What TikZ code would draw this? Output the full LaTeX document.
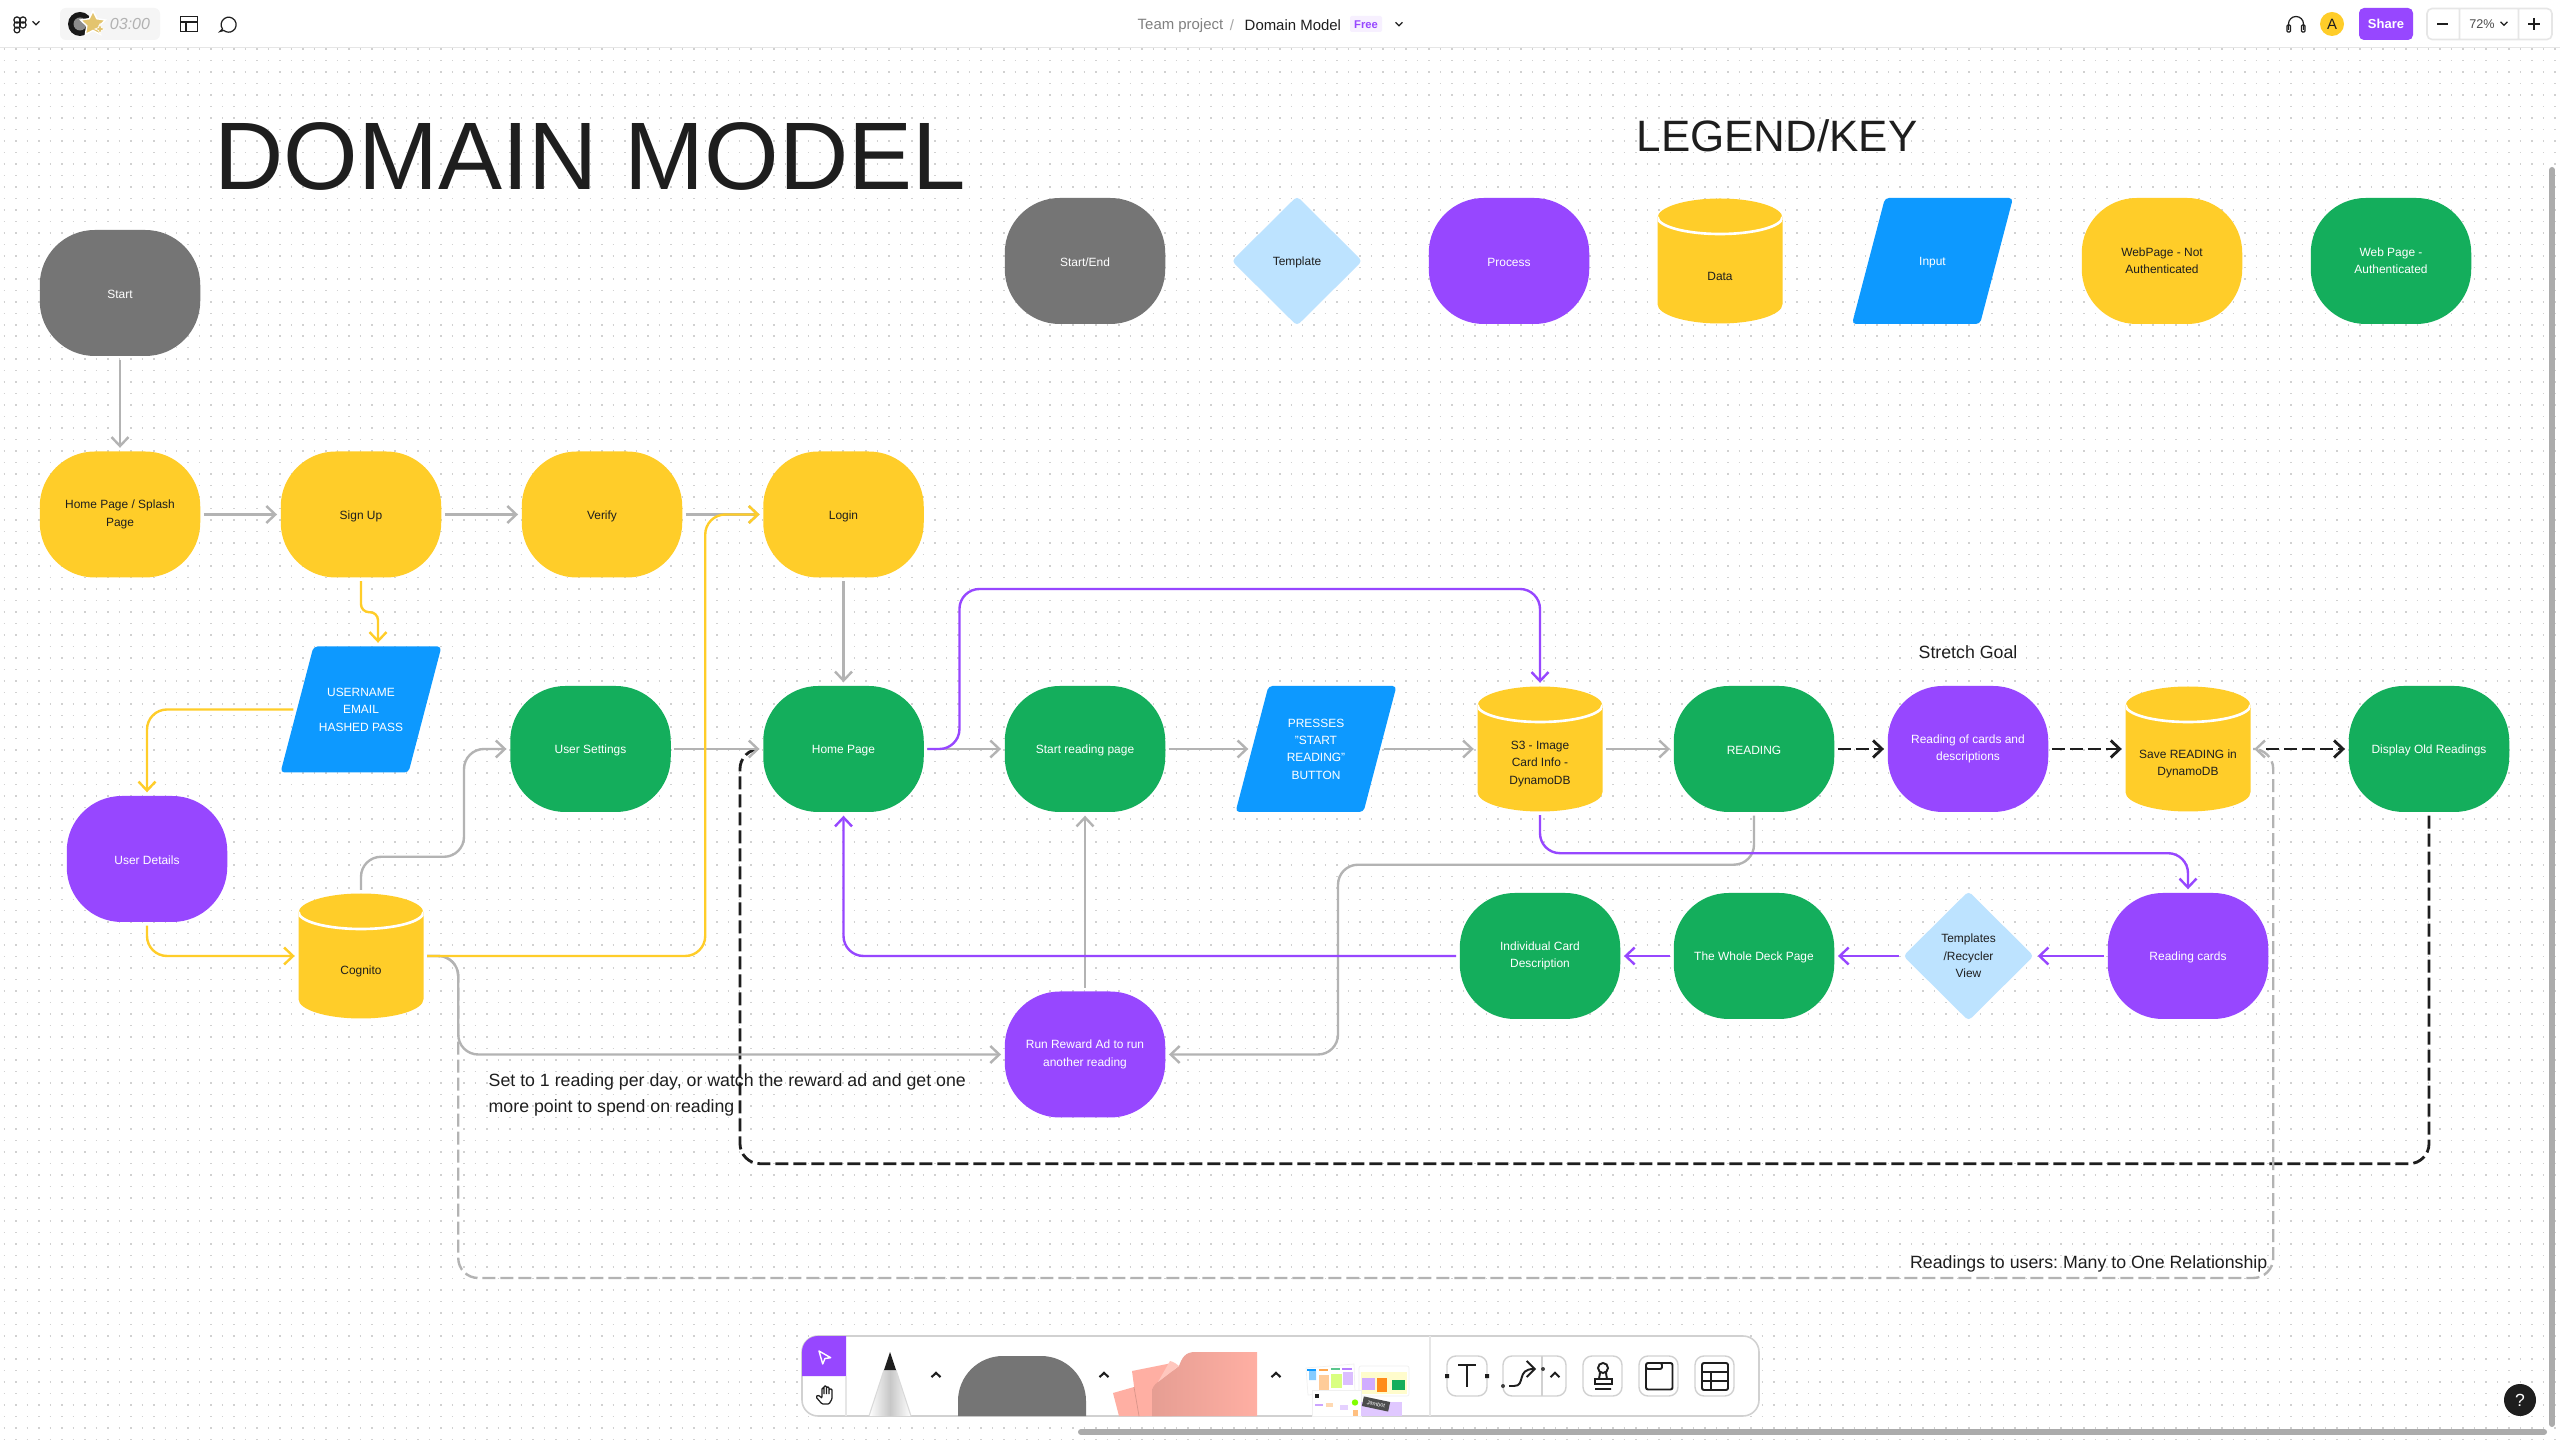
\documentclass[tikz,border=0pt]{standalone}
\usepackage{fontspec}
\setmainfont{Liberation Sans}
\usepackage{xcolor}
\usetikzlibrary{shapes.geometric, arrows.meta, positioning, calc}
\frenchspacing
\definecolor{inkblack}{HTML}{1E1E1E}
\definecolor{nodegrey}{HTML}{757575}
\definecolor{nodeyellow}{HTML}{FFCD29}
\definecolor{nodegreen}{HTML}{14AE5C}
\definecolor{nodepurple}{HTML}{9747FF}
\definecolor{nodeblue}{HTML}{0D99FF}
\definecolor{nodesky}{HTML}{BDE3FF}
\definecolor{linegrey}{HTML}{B3B3B3}
\definecolor{uigrey}{HTML}{E6E6E6}
\definecolor{stickypink}{HTML}{FFAFA3}
\definecolor{plugingold}{HTML}{E3C46E}
\newcommand{\lblfont}{\fontsize{3.4pt}{4.95pt}\selectfont}
\newcommand{\notefont}{\fontsize{5.05pt}{7.4pt}\selectfont}
\newcommand{\uifont}{\fontsize{4.25pt}{5pt}\selectfont}
\tikzset{
  lowered/.style = {execute at begin node={\rule{0pt}{3.4pt}}},
  blob/.style    = {rounded corners=5.5mm, minimum width=16.05mm, minimum height=12.6mm,
                    inner sep=0pt, align=center, font=\lblfont, lowered},
  terminal/.style = {blob, fill=nodegrey, text=white},
  pubpage/.style = {blob, fill=nodeyellow, text=inkblack},
  authpage/.style = {blob, fill=nodegreen, text=white},
  process/.style = {blob, fill=nodepurple, text=white},
  inputlabel/.style = {minimum width=12.8mm, minimum height=12.6mm, inner sep=0pt, text=white,
                    align=center, font=\lblfont, lowered},
  tmplbox/.style = {diamond, minimum width=13.1mm, minimum height=13mm, rounded corners=.4mm,
                    inner sep=0pt, fill=nodesky, text=inkblack, align=center, font=\lblfont, lowered},
  datacyl/.style = {cylinder, shape border rotate=90, aspect=.31, anchor=shape center,
                    minimum width=12.5mm, minimum height=12.5mm, inner sep=0pt,
                    fill=nodeyellow,
                    path picture={\draw[white, line width=.75pt]
                      ([yshift=-1.85mm]path picture bounding box.north west)
                      arc[start angle=180, end angle=360, x radius=6.25mm, y radius=1.7mm];}},
  cyltext/.style = {inner sep=0pt, text=inkblack, align=center, font=\lblfont},
  flow/.style    = {-{Straight Barb[length=.9mm, width=1.7mm]}, line width=.68pt,
                    rounded corners=2mm, shorten >=.3mm, shorten <=.3mm},
  flowgrey/.style = {flow, draw=linegrey},
  flowyellow/.style = {flow, draw=nodeyellow},
  flowpurple/.style = {flow, draw=nodepurple},
  flowdash/.style = {flow, draw=inkblack, line width=.8pt, dash pattern=on 1.3mm off .5mm},
  flowdashgrey/.style = {flow, draw=linegrey, dash pattern=on 1.3mm off .5mm},
  griddot/.style = {draw=black!18, line width=.15mm, dash pattern=on .15mm off .999mm},
  uiline/.style  = {draw=inkblack, line width=.35pt},
  uibtn/.style   = {draw=black!18, line width=.4pt, rounded corners=.9mm, fill=white},
  uitext/.style  = {font=\uifont, inner sep=0pt}
}
\newcommand{\inputnode}[4]{%
  \fill[nodeblue, rounded corners=.4mm] ({#2-80.5},{#3+63}) -- ++(128,0) -- ++(33,-126) -- ++(-128,0) -- cycle;
  \node[inputlabel] (#1) at (#2,#3) {#4};
}
\newcommand{\cylspan}{\hspace*{12.5mm}}
\newcommand{\uichev}[3]{%
  \begin{scope}[shift={(#1,#2)}]
    \draw[uiline, line width=#3pt] (-4.5,2.2) -- (0,-2.2) -- (4.5,2.2);
  \end{scope}
}
\newcommand{\uichevdown}[2]{%
  \begin{scope}[shift={(#1,#2)}]
    \draw[uiline] (-3.5,-1.7) -- (0,1.7) -- (3.5,-1.7);
  \end{scope}
}
\begin{document}
\begin{tikzpicture}[x=.1mm, y=-.1mm]
\useasboundingbox (0,0) rectangle (2560,1440);
\fill[white] (0,0) rectangle (2560,1440);
% canvas dots
\foreach \rowy in {0,...,121} {
  \draw[griddot] (3.65,{49+\rowy*11.49}) -- (2560,{49+\rowy*11.49});
}
% titles
\node[font=\fontsize{27.3pt}{30pt}\selectfont, text=inkblack, inner sep=0pt] (maintitle) at (590,156) {DOMAIN MODEL};
\node[font=\fontsize{12.5pt}{15pt}\selectfont, text=inkblack, inner sep=0pt] (legendtitle) at (1777,136) {LEGEND/KEY};
% legend
\node[terminal] (keystart) at (1085,261) {Start/End};
\node[tmplbox]  (keytmpl) at (1297,261) {Template};
\node[process]  (keyproc) at (1509,261) {Process};
\node[datacyl]  (keydata) at (1720,261) {\cylspan};
\node[cyltext]  (keydatatxt) at ([yshift=-1.5mm]keydata.shape center) {Data};
\inputnode{keyinput}{1932.5}{261}{Input}
\node[pubpage]  (keypub) at (2162,261) {WebPage - Not\\Authenticated};
\node[authpage] (keyauth) at (2391,261) {Web Page -\\Authenticated};
% flow nodes
\node[terminal] (startnode) at (120,293) {Start};
\foreach \cx/\nm/\txt in {120/homesplash/{Home Page / Splash\\Page}, 361/signup/{Sign Up},
  602/verify/{Verify}, 843.5/login/{Login}} {
  \node[pubpage] (\nm) at (\cx,514.5) {\txt};
}
\foreach \cx/\cy/\nm/\txt in {590.5/749/settings/{User Settings}, 843.5/749/homepg/{Home Page},
  1085/749/startread/{Start reading page}, 1754/749/readingnode/{READING},
  2429/749/displayold/{Display Old Readings}, 1754/956/wholedeck/{The Whole Deck Page},
  1540/956/indcard/{Individual Card\\Description}} {
  \node[authpage] (\nm) at (\cx,\cy) {\txt};
}
\foreach \cx/\cy/\nm/\txt in {147/859/userdetails/{User Details},
  1968/749/readdesc/{Reading of cards and\\descriptions}, 2188/956/readcards/{Reading cards},
  1085/1054.5/runad/{Run Reward Ad to run\\another reading}} {
  \node[process] (\nm) at (\cx,\cy) {\txt};
}
\foreach \cx/\cy/\nm/\txt in {361/956/cognito/{Cognito}, 1540/749/s3cyl/{S3 - Image\\Card Info -\\DynamoDB},
  2188/749/savecyl/{Save READING in\\DynamoDB}} {
  \node[datacyl] (\nm) at (\cx,\cy) {\cylspan};
  \node[cyltext] (\nm-txt) at ([yshift=-1.5mm]\nm.shape center) {\txt};
  \coordinate (\nm-w) at (\nm.west |- \nm.shape center);
  \coordinate (\nm-e) at (\nm.east |- \nm.shape center);
}
\inputnode{username}{361}{709.5}{USERNAME\\EMAIL\\HASHED PASS}
\inputnode{pressbtn}{1316}{749}{PRESSES\\"START\\READING"\\BUTTON}
\node[tmplbox] (tmplview) at (1968.5,956) {Templates\\/Recycler\\View};
% notes
\node[font=\notefont, text=inkblack, inner sep=0pt] (stretchgoal) at (1968,652) {Stretch Goal};
\node[font=\notefont, text=inkblack, inner sep=0pt, align=left, anchor=north west] (rewardnote) at (488,1073)
  {Set to 1 reading per day, or watch the reward ad and get one\\more point to spend on reading};
\node[font=\notefont, text=inkblack, inner sep=0pt, anchor=east] (manynote) at (2268,1263.5)
  {Readings to users: Many to One Relationship};
% connectors, lowest first
\draw[flowdash, -] (displayold.south) -- ++(0,351) -- ++(-1689,0) |- (homepg.west);
\draw[flowdashgrey] (cognito-e) -- ++(34,0) -- ++(0,322) -- ++(1815,0) |- (savecyl-e);
\foreach \from/\to in {startnode.south/homesplash.north, homesplash.east/signup.west,
  signup.east/verify.west, verify.east/login.west, login.south/homepg.north,
  settings.east/homepg.west, homepg.east/startread.west, startread.east/pressbtn.west,
  pressbtn.east/s3cyl-w, s3cyl-e/readingnode.west, runad.north/startread.south} {
  \draw[flowgrey] (\from) -- (\to);
}
\draw[flowgrey] (cognito.top) -- ++(0,-36) -- ++(103,0) |- (settings.west);
\draw[flowgrey] (cognito-e) -- ++(34,0) |- (runad.west);
\draw[flowgrey] (readingnode.south) -- ++(0,52) -- ++(-416,0) |- (runad.east);
\draw[flowyellow, rounded corners=.8mm] (signup.south) -- ++(0,34) -| ([xshift=1.7mm]username.north);
\draw[flowyellow] (username.west) -| (userdetails.north);
\draw[flowyellow] (userdetails.south) |- (cognito-w);
\draw[flowyellow] (cognito-e) -- ++(281,0) |- (login.west);
\draw[flowpurple] (homepg.east) -- ++(35,0) -- ++(0,-160) -| (s3cyl.top);
\draw[flowpurple] (s3cyl.bottom) -- ++(0,41) -| (readcards.north);
\draw[flowpurple] (readcards.west) -- (tmplview.east);
\draw[flowpurple] (tmplview.west) -- (wholedeck.east);
\draw[flowpurple] (wholedeck.west) -- (indcard.east);
\draw[flowpurple] (indcard.west) -| (homepg.south);
\draw[flowdash] (readingnode.east) -- (readdesc.west);
\draw[flowdash] (readdesc.east) -- (savecyl-w);
\draw[flowdash, shorten <=1.5mm] (savecyl-e) -- (displayold.west);
% top bar
\fill[white] (0,0) rectangle (2560,47);
\draw[uigrey, line width=.45pt] (0,47.5) -- (2560,47.5);
\begin{scope}[uiline]
  \draw (17,20) circle (3.1) (23,20) circle (3.1) (23,25) circle (3.1) (17,25) circle (3.1) (17,30) circle (2.9);
\end{scope}
\uichevdown{36}{23}
\fill[black!4, rounded corners=.6mm] (60,8) rectangle (160,40);
\fill[black!90] (80,24) circle (12);
\fill[black!45] (80,24) circle (6.5);
\node[star, star points=5, star point ratio=2, draw=white, line width=.4pt, fill=plugingold,
  minimum size=2.6mm, inner sep=0pt] (plugstar) at (93,24) {};
\node[star, star points=4, star point ratio=2.4, draw=white, fill=plugingold, line width=.2pt,
  minimum size=1mm, inner sep=0pt] (plugspark) at (100,29) {};
\node[font=\fontsize{4.55pt}{5pt}\selectfont\itshape, text=black!30, inner sep=0pt] (plugtime) at (130,24) {03:00};
\draw[uiline] (180.5,16.5) rectangle (197.5,31.5) (180.5,22) -- (197.5,22) (186,22) -- (186,31.5);
\draw[uiline] (222.5,29) arc[start angle=215, end angle=-130, radius=.75mm] -- (220,31.5) -- cycle;
\node[uitext, text=black!50, anchor=west] (teamlbl) at (1137,25.5) {Team project};
\node[uitext, text=black!35] (crumbsep) at (1232,25.5) {/};
\node[uitext, text=inkblack, anchor=west] (domainlbl) at (1244,25.5) {Domain Model};
\fill[nodepurple!8, rounded corners=.2mm] (1350,16) rectangle (1382,32);
\node[font=\fontsize{3.2pt}{4pt}\selectfont\bfseries, text=nodepurple, inner sep=0pt] (freelbl) at (1366,24.5) {Free};
\uichevdown{1399}{24}
\draw[uiline] (2288.5,30) -- (2288.5,24) arc[start angle=180, end angle=0, radius=.75mm] -- (2303.5,30);
\draw[uiline, rounded corners=.1mm] (2287,25) rectangle (2290.5,32) (2301.5,25) rectangle (2305,32);
\node[circle, fill=nodeyellow, minimum size=2.4mm, inner sep=0pt, font=\uifont, text=inkblack] (avatar) at (2332,24) {A};
\node[fill=nodepurple, rounded corners=.5mm, minimum width=5.4mm, minimum height=3.2mm, inner sep=0pt,
  font=\fontsize{3.7pt}{4pt}\selectfont\bfseries, text=white] (sharebtn) at (2386,24) {Share};
\draw[uigrey, line width=.45pt, rounded corners=.5mm] (2427,8.5) rectangle (2552,39.5) (2459.5,8.5) -- (2459.5,39.5) (2518.5,8.5) -- (2518.5,39.5);
\draw[uiline] (2437,24) -- (2448,24) (2528,24) -- (2540,24) (2534,18) -- (2534,30);
\node[font=\fontsize{3.6pt}{4pt}\selectfont, text=black!70, inner sep=0pt] (zoomlbl) at (2482,24) {72\%};
\uichevdown{2504}{23.5}
% scroll bars
\draw[black!33, line width=.6mm, line cap=round] (2552,170) -- (2552,1424);
\draw[black!33, line width=.6mm, line cap=round] (1081,1432) -- (2544,1432);
\node[circle, fill=inkblack, minimum size=3.2mm, inner sep=0pt, font=\fontsize{5pt}{6pt}\selectfont, text=white] (helpbtn) at (2520,1400) {?};
% bottom toolbar
\draw[draw=black!18, line width=.45pt, fill=white, rounded corners=1.6mm] (802,1336) rectangle (1759,1416);
\fill[nodepurple] (846,1336) -- (846,1376) -- (802,1376) -- (802,1352) arc[start angle=180, end angle=90, radius=1.6mm] -- cycle;
\draw[white, line width=.4pt, line join=round] (819,1351) -- (830.7,1357.7) -- (825,1358.5) -- (822.7,1364) -- cycle;
\draw[uigrey, line width=.4pt] (846,1376) -- (846,1416) (1430,1336) -- (1430,1416);
\draw[uiline, rounded corners=.1mm] (822,1397) -- (822,1388) -- (824,1388) -- (824,1395) -- (824,1386) -- (826.5,1386) -- (826.5,1395)
  -- (826.5,1387) -- (829,1387) -- (829,1395) -- (829,1389) -- (832,1389) -- (832,1399) -- (829,1404) -- (822,1404) -- (816,1397) -- (818,1395) -- (822,1398);
\shade[left color=white, right color=white, middle color=black!22] (884,1370) -- (896,1370) -- (911,1416) -- (869,1416) -- cycle;
\draw[black!15, line width=.3pt] (884,1370) -- (869,1416) (896,1370) -- (911,1416);
\fill[inkblack] (890,1352) -- (896,1370) -- (884,1370) -- cycle;
\uichev{936}{1375}{.6}
\fill[nodegrey] (958,1416) -- (958,1401) arc[start angle=180, end angle=90, radius=4.5mm] -- (1041,1356) arc[start angle=90, end angle=0, radius=4.5mm] -- (1086,1416) -- cycle;
\uichev{1104}{1375}{.6}
\fill[stickypink] (1113,1393) -- (1134,1387) -- (1145,1416) -- (1119,1416) -- cycle;
\fill[stickypink] (1132,1371) -- (1172,1363) -- (1172,1416) -- (1138,1416) -- cycle;
\draw[stickypink!85!black, line width=.2pt] (1134,1387) -- (1139,1416);
\shade[left color=stickypink!90!black, middle color=stickypink, right color=stickypink] (1257,1352) -- (1195,1352) .. controls (1185,1352) and (1182,1358) .. (1179,1366)
  -- (1158,1382) .. controls (1154,1385) and (1152,1388) .. (1152,1392) -- (1152,1416) -- (1257,1416) -- cycle;
\fill[stickypink!70!white] (1158,1382) -- (1170,1361) .. controls (1174,1362) and (1177,1364) .. (1179,1366) -- cycle;
\uichev{1276}{1375}{.6}
% template thumbnails
\fill[white, draw=black!6, line width=.2pt] (1306,1368) -- (1354,1364) -- (1355,1392) -- (1308,1395) -- cycle;
\fill[nodeblue!50] (1309,1371) -- (1316,1370.5) -- (1316,1380) -- (1309,1380) -- cycle;
\fill[nodeblue] (1307,1369) rectangle (1316,1371);
\fill[orange!70] (1319,1369) rectangle (1328,1371);
\fill[nodegreen!70] (1331,1368) rectangle (1340,1370);
\fill[nodepurple!70] (1342,1367.5) rectangle (1352,1369.5);
\fill[orange!40] (1319,1375) rectangle (1329,1390);
\fill[green!30!yellow!50] (1331,1374) rectangle (1342,1388);
\fill[nodepurple!35] (1343,1372) rectangle (1353,1385);
\fill[white, draw=black!6, line width=.2pt, rounded corners=.2mm] (1359,1366) rectangle (1409,1396);
\fill[yellow!20] (1361,1372) rectangle (1407,1394);
\fill[nodepurple!45] (1362,1378) rectangle (1375,1390);
\fill[orange!90] (1377,1378) rectangle (1387,1392);
\fill[nodegreen] (1392,1380) rectangle (1405,1390);
\fill[white, draw=black!6, line width=.2pt] (1312,1390) rectangle (1361,1416);
\fill[nodepurple!50] (1315,1404) rectangle (1323,1406);
\fill[orange!30] (1326,1403) rectangle (1333,1407);
\fill[nodepurple!25] (1340,1405) rectangle (1348,1410);
\fill[inkblack] (1315,1394) rectangle (1319,1398);
\fill[green!50!yellow] (1355,1402.5) circle (3.2);
\fill[orange!50] (1353,1410) rectangle (1358,1416);
\fill[nodepurple!30] (1361,1402) rectangle (1402,1416);
\node[fill=black!70, text=white, font=\fontsize{1.6pt}{2pt}\selectfont, rotate=-12, inner xsep=1.2pt, inner ysep=.8pt] (jambot) at (1376,1404) {Jambot};
% tool buttons
\draw[uibtn] (1447,1356) rectangle (1487,1396);
\fill[inkblack] (1445,1374) rectangle (1449,1378) (1485,1374) rectangle (1489,1378);
\draw[uiline, line width=.55pt] (1458,1365) -- (1476,1365) (1467,1365) -- (1467,1387);
\draw[uibtn] (1503,1356) rectangle (1566,1396);
\draw[black!18, line width=.4pt] (1542,1356) -- (1542,1396);
\fill[inkblack!85] (1503,1386) circle (2) (1543,1369) circle (2);
\draw[uiline, line width=.55pt, -{Straight Barb[length=.8mm, width=1.6mm]}] (1509,1386) -- (1514,1386) .. controls (1526,1386) and (1516,1369) .. (1536,1369);
\uichev{1555}{1375}{.55}
\draw[uibtn] (1583,1356) rectangle (1622,1396);
\draw[uiline, line width=.55pt] (1603,1368) circle (5) (1600,1373) -- (1599,1379) (1606,1373) -- (1607,1379) (1595,1379) rectangle (1612,1384) (1595,1389) -- (1611,1389);
\draw[uibtn] (1639,1356) rectangle (1678,1396);
\draw[uiline, line width=.55pt, rounded corners=.2mm] (1646,1363) rectangle (1672.5,1389.5) (1646,1363) rectangle (1662,1369);
\draw[uibtn] (1695,1356) rectangle (1734,1396);
\draw[uiline, line width=.55pt, rounded corners=.2mm] (1702,1363) rectangle (1728,1390);
\draw[uiline, line width=.55pt] (1702,1372) -- (1728,1372) (1702,1381) -- (1728,1381) (1711,1372) -- (1711,1390);
\end{tikzpicture}
\end{document}
